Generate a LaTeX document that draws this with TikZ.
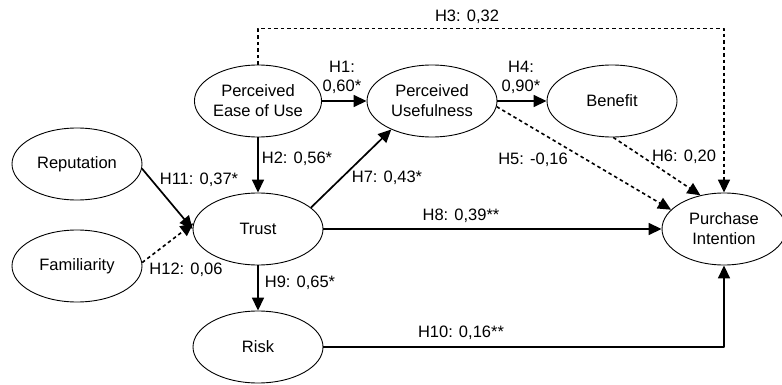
\documentclass[tikz,border=0pt]{standalone}
\usepackage{fontspec}
\setmainfont{Liberation Sans}
\usetikzlibrary{arrows.meta,shapes.geometric}

\begin{document}
\begin{tikzpicture}[x=1pt,y=-1pt,>={Triangle[length=13pt,width=12pt]},line join=round,
  construct/.style={draw,ellipse,line width=0.9pt,inner sep=0pt,minimum width=130pt,
    minimum height=72pt,align=center,font=\fontsize{16.5}{20}\selectfont},
  sig/.style={->,line width=1.7pt},
  nonsig/.style={->,line width=1.6pt,dash pattern=on 3.5pt off 3pt},
  coef/.style={font=\fontsize{16.5}{19}\selectfont,align=center,inner sep=0pt}]
  \useasboundingbox (0,0) rectangle (782,385);
  % constructs
  \node[construct,minimum width=124pt] (peou) at (258,101) {Perceived\\Ease of Use};
  \node[construct] (pu) at (432,101) {Perceived\\Usefulness};
  \node[construct] (ben) at (612,101) {Benefit};
  \node[construct] (rep) at (77,164) {Reputation};
  \node[construct] (trust) at (258,229) {Trust};
  \node[construct] (fam) at (77,266) {Familiarity};
  \node[construct] (risk) at (258,347) {Risk};
  \node[construct,minimum width=124pt] (pi) at (724,229) {Purchase\\Intention};
  % paths
  \draw[nonsig] (peou.north) -- ++(0,-36) -| (pi.north);
  \draw[sig] (peou) -- (pu);
  \draw[sig] (pu) -- (ben);
  \draw[nonsig] (pu.-5) -- (pi.160);
  \draw[nonsig] (ben.-88) -- (pi.125);
  \draw[sig] (peou) -- (trust);
  \draw[sig] (trust.22) -- (pu.215);
  \draw[sig] (trust) -- (pi);
  \draw[sig] (trust) -- (risk);
  \draw[sig] (risk) -| (pi.south);
  \draw[sig] (rep.-4) -- (trust.west);
  \draw[nonsig] (fam.3) -- (trust.175);
  % coefficients
  \node[coef] (h3) at (467,17) {H3: 0,32};
  \node[coef] (h1) at (342,77) {H1:\\0,60*};
  \node[coef] (h4) at (521,77) {H4:\\0,90*};
  \node[coef] (h2) at (297,159) {H2: 0,56*};
  \node[coef] (h7) at (387,178) {H7: 0,43*};
  \node[coef] (h5) at (533,160) {H5: -0,16};
  \node[coef] (h6) at (684,157) {H6: 0,20};
  \node[coef] (h11) at (199,180) {H11: 0,37*};
  \node[coef] (h12) at (186,270) {H12: 0,06};
  \node[coef] (h8) at (461,216) {H8: 0,39**};
  \node[coef] (h9) at (300,283) {H9: 0,65*};
  \node[coef] (h10) at (461,333) {H10: 0,16**};
\end{tikzpicture}
\end{document}
